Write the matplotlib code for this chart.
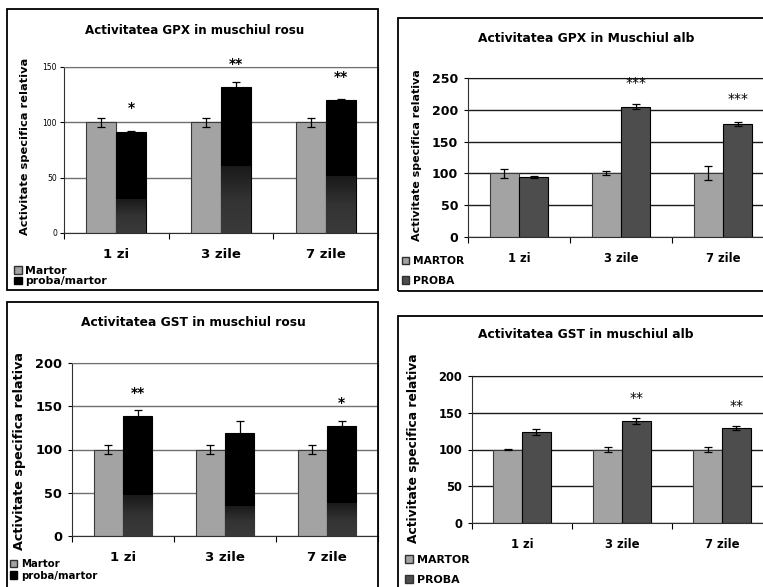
import matplotlib.pyplot as plt
import numpy as np
from matplotlib.patches import Rectangle, Patch
from matplotlib.colors import LinearSegmentedColormap

plt.rcParams['font.family'] = ['DejaVu Sans']

categories = ['1 zi', '3 zile', '7 zile']

# GPX muschi rosu
gpx_rosu_martor = [100, 100, 100]
gpx_rosu_martor_err = [4, 4, 4]
gpx_rosu_proba = [91, 132, 120]
gpx_rosu_proba_err = [1, 4, 1]
gpx_rosu_umbra = [30, 60, 51]
gpx_rosu_stele = ['*', '**', '**']
gpx_rosu_stele_y = [113, 153, 141]

# GPX muschi alb
gpx_alb_martor = [100, 100, 100]
gpx_alb_martor_err = [7, 3, 11]
gpx_alb_proba = [94, 205, 178]
gpx_alb_proba_err = [2, 4, 3]
gpx_alb_stele = ['', '***', '***']
gpx_alb_stele_y = [0, 242, 217]

# GST muschi rosu
gst_rosu_martor = [100, 100, 100]
gst_rosu_martor_err = [5, 5, 5]
gst_rosu_proba = [139, 119, 127]
gst_rosu_proba_err = [7, 14, 6]
gst_rosu_umbra = [47, 34, 37]
gst_rosu_stele = ['**', '', '*']
gst_rosu_stele_y = [165, 0, 154]

# GST muschi alb
gst_alb_martor = [100, 100, 100]
gst_alb_martor_err = [1, 4, 4]
gst_alb_proba = [124, 139, 129]
gst_alb_proba_err = [4, 4, 3]
gst_alb_stele = ['', '**', '**']
gst_alb_stele_y = [0, 170, 159]

W, H = 763, 587
fig = plt.figure(figsize=(W / 100, H / 100), dpi=100)


def fx(px):
    return px / W


def fy(py):
    return 1 - py / H


def box(l, t, r, b):
    return [l / W, 1 - b / H, (r - l) / W, (b - t) / H]


def chenar(l, t, r, b):
    fig.add_artist(Rectangle((fx(l), fy(b)), (r - l) / W, (b - t) / H,
                             transform=fig.transFigure, fill=False,
                             ec='black', lw=1.3))


umbra_cmap = LinearSegmentedColormap.from_list('umbra', ['#3a3a3a', '#333333', '#1a1a1a'])
bw = 0.286


def panou(pos, ymax, martor, martor_err, proba, proba_err, stele, stele_y,
          proba_col, grid_col, tick_fs, tick_bold, xfs, umbra=None, star_bold=True):
    ax = fig.add_axes(box(*pos))
    x = np.arange(len(categories)) + 0.5
    ax.bar(x - bw / 2, martor, bw, color='#a3a3a3', edgecolor='#3a3a3a', lw=0.8, zorder=2)
    ax.bar(x + bw / 2, proba, bw, color=proba_col, edgecolor='black', lw=0.8, zorder=2)
    if umbra is not None:
        grad = np.linspace(0, 1, 64).reshape(-1, 1)
        for xi, g in zip(x, umbra):
            ax.imshow(grad, extent=[xi, xi + bw, 0, g], origin='lower', aspect='auto',
                      cmap=umbra_cmap, zorder=2.5)
    ax.errorbar(x - bw / 2, martor, yerr=martor_err, fmt='none', ecolor='black',
                elinewidth=0.9, capsize=3, capthick=0.9, zorder=3)
    ax.errorbar(x + bw / 2, proba, yerr=proba_err, fmt='none', ecolor='black',
                elinewidth=0.9, capsize=3, capthick=0.9, zorder=3)
    for xi, s, sy in zip(x, stele, stele_y):
        if s:
            ax.text(xi + bw / 2, sy, s, ha='center', va='center', fontsize=10,
                    fontweight='bold' if star_bold else 'normal')
    ax.set_xlim(0, len(categories))
    ax.set_ylim(0, ymax)
    ax.set_yticks(np.arange(0, ymax + 1, 50))
    ax.set_axisbelow(True)
    ax.yaxis.grid(True, color=grid_col, lw=1)
    ax.set_xticks(np.arange(len(categories) + 1))
    ax.set_xticklabels([])
    ax.set_xticks(x, minor=True)
    ax.set_xticklabels(categories, minor=True, fontsize=xfs, fontweight='bold')
    ax.tick_params(axis='x', which='major', direction='out', length=4, width=0.8)
    ax.tick_params(axis='x', which='minor', length=0, pad=11)
    ax.tick_params(axis='y', direction='out', length=3, width=0.8, pad=4 if tick_bold else 2,
                   labelsize=tick_fs)
    for lab in ax.get_yticklabels():
        lab.set_fontweight('bold' if tick_bold else 'normal')
    for side in ['top', 'right']:
        ax.spines[side].set_color(grid_col)
    ax.spines['left'].set_color('#303030')
    ax.spines['bottom'].set_color('#303030')
    return ax


# panou 1
chenar(7, 9, 378, 290)
ax1 = panou((64, 67, 378, 233), 150, gpx_rosu_martor, gpx_rosu_martor_err,
            gpx_rosu_proba, gpx_rosu_proba_err, gpx_rosu_stele, gpx_rosu_stele_y,
            'black', '#707070', 5.5, False, 9.5, umbra=gpx_rosu_umbra)
fig.text(fx(195), fy(30), 'Activitatea GPX in muschiul rosu', ha='center', va='center',
         fontsize=8.6, fontweight='bold')
ax1.set_ylabel('Activitate specifica relativa', fontsize=8.2, fontweight='bold')
ax1.yaxis.set_label_coords(fx(30), fy(146), transform=fig.transFigure)
ax1.legend([Patch(fc='#a3a3a3', ec='#303030'), Patch(fc='black', ec='black')],
           ['Martor', 'proba/martor'], loc='center left', frameon=False,
           bbox_to_anchor=(fx(14), fy(276)), bbox_transform=fig.transFigure,
           prop={'size': 7.8, 'weight': 'bold'}, handlelength=0.7, handleheight=0.7,
           handletextpad=0.35, labelspacing=0.08, borderpad=0, borderaxespad=0)

# panou 2
chenar(398, 18, 775, 291)
ax2 = panou((468, 78, 774, 237), 250, gpx_alb_martor, gpx_alb_martor_err,
            gpx_alb_proba, gpx_alb_proba_err, gpx_alb_stele, gpx_alb_stele_y,
            '#4d4d4d', '#1a1a1a', 9, True, 8.4, star_bold=False)
fig.text(fx(586), fy(38), 'Activitatea GPX in Muschiul alb', ha='center', va='center',
         fontsize=8.8, fontweight='bold')
ax2.set_ylabel('Activitate specifica relativa', fontsize=8, fontweight='bold')
ax2.yaxis.set_label_coords(fx(422), fy(155), transform=fig.transFigure)
ax2.legend([Patch(fc='#a3a3a3', ec='#303030'), Patch(fc='#4d4d4d', ec='#303030')],
           ['MARTOR', 'PROBA'], loc='center left', frameon=False,
           bbox_to_anchor=(fx(402), fy(271)), bbox_transform=fig.transFigure,
           prop={'size': 7.7, 'weight': 'bold'}, handlelength=0.7, handleheight=0.7,
           handletextpad=0.35, labelspacing=0.9, borderpad=0, borderaxespad=0)

# panou 3
chenar(7, 302, 378, 600)
ax3 = panou((72, 363, 378, 536), 200, gst_rosu_martor, gst_rosu_martor_err,
            gst_rosu_proba, gst_rosu_proba_err, gst_rosu_stele, gst_rosu_stele_y,
            'black', '#707070', 9.3, True, 9.5, umbra=gst_rosu_umbra)
fig.text(fx(193), fy(323), 'Activitatea GST in muschiul rosu', ha='center', va='center',
         fontsize=8.8, fontweight='bold')
ax3.set_ylabel('Activitate specifica relativa', fontsize=9.2, fontweight='bold')
ax3.yaxis.set_label_coords(fx(26), fy(451), transform=fig.transFigure)
ax3.legend([Patch(fc='#a3a3a3', ec='#303030'), Patch(fc='black', ec='black')],
           ['Martor', 'proba/martor'], loc='center left', frameon=False,
           bbox_to_anchor=(fx(10), fy(570)), bbox_transform=fig.transFigure,
           prop={'size': 7.3, 'weight': 'bold'}, handlelength=0.7, handleheight=0.7,
           handletextpad=0.35, labelspacing=0.1, borderpad=0, borderaxespad=0)

# panou 4
chenar(398, 316, 775, 600)
ax4 = panou((472, 376, 772, 523), 200, gst_alb_martor, gst_alb_martor_err,
            gst_alb_proba, gst_alb_proba_err, gst_alb_stele, gst_alb_stele_y,
            '#4d4d4d', '#1a1a1a', 8.3, True, 8.4, star_bold=False)
fig.text(fx(586), fy(335), 'Activitatea GST in muschiul alb', ha='center', va='center',
         fontsize=8.8, fontweight='bold')
ax4.set_ylabel('Activitate specifica relativa', fontsize=8.8, fontweight='bold')
ax4.yaxis.set_label_coords(fx(420), fy(448), transform=fig.transFigure)
ax4.legend([Patch(fc='#a3a3a3', ec='#303030'), Patch(fc='#4d4d4d', ec='#303030')],
           ['MARTOR', 'PROBA'], loc='center left', frameon=False,
           bbox_to_anchor=(fx(405), fy(570)), bbox_transform=fig.transFigure,
           prop={'size': 7.9, 'weight': 'bold'}, handlelength=0.7, handleheight=0.7,
           handletextpad=0.35, labelspacing=0.9, borderpad=0, borderaxespad=0)

fig.savefig('out.png', dpi=100)
